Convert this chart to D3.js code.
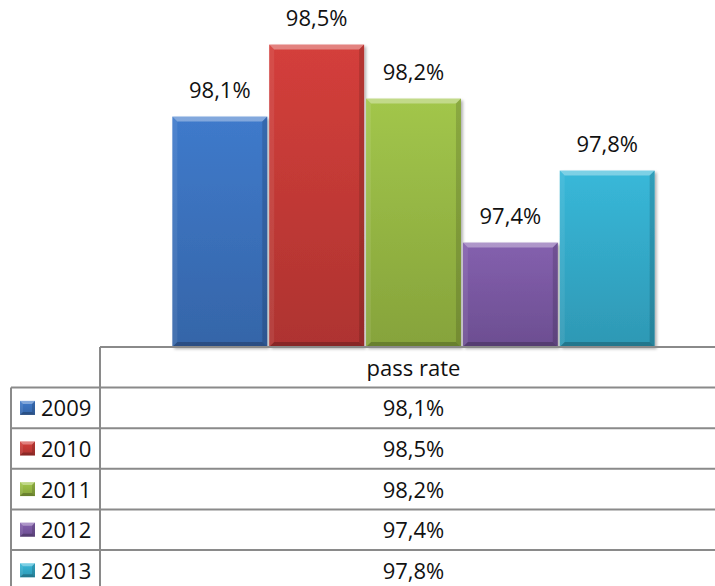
<!DOCTYPE html>
<html>
<head>
<meta charset="utf-8">
<script src="https://cdn.jsdelivr.net/npm/d3@7"></script>
<style>
  html, body { margin: 0; padding: 0; background: #fff; }
  svg { display: block; }
  text { font-family: "Open Sans", "Noto Sans", sans-serif; fill: #111; }
</style>
</head>
<body>
<script>
// ---- data ----
const categories = ["pass rate"];
const years = ["2009", "2010", "2011", "2012", "2013"];
const values = [98.1, 98.5, 98.2, 97.4, 97.8];
const labels = ["98,1%", "98,5%", "98,2%", "97,4%", "97,8%"];
const colors = ["#3f7acb", "#d43f3b", "#a2c64b", "#8460ae", "#38b8d9"];
const colorsDark = ["#3565a8", "#ae3330", "#86a33b", "#6c4e91", "#2e98b4"];

// ---- layout ----
const W = 715, H = 586;
const baseY = 347;
const tableLeft = 11, col1 = 100, tableRight = 727;
const rowH = 40.6;

const svg = d3.select("body").append("svg").attr("width", W).attr("height", H);
const defs = svg.append("defs");

colors.forEach((c, i) => {
  const g = defs.append("linearGradient").attr("id", "g" + i)
    .attr("x1", 0).attr("y1", 0).attr("x2", 0).attr("y2", 1);
  g.append("stop").attr("offset", "0%").attr("stop-color", c);
  g.append("stop").attr("offset", "100%").attr("stop-color", colorsDark[i]);
});
const f = defs.append("filter").attr("id", "shadow")
  .attr("x", "-10%").attr("y", "-10%").attr("width", "130%").attr("height", "130%");
f.append("feDropShadow").attr("dx", 2).attr("dy", 2).attr("stdDeviation", 1.5)
  .attr("flood-color", "#000").attr("flood-opacity", 0.3);

// scales
const x0 = d3.scaleBand().domain(categories).range([col1, tableRight]);
const gap = 1.5; // Excel gap width 150%
const seriesW = x0.bandwidth() / (years.length + gap);
const x1 = d3.scaleBand().domain(years)
  .range([x0("pass rate") + seriesW * gap / 2, x0("pass rate") + x0.bandwidth() - seriesW * gap / 2])
  .paddingInner(0.02);
const y = d3.scaleLinear().domain([96.82, 98.6]).range([baseY, 26.6]);

// bevelled box
function bevelBox(g, x, yTop, w, h, i, b) {
  g.append("rect").attr("x", x).attr("y", yTop).attr("width", w).attr("height", h)
    .attr("fill", `url(#g${i})`);
  const x2 = x + w, y2 = yTop + h;
  // top
  g.append("path").attr("d", `M${x},${yTop}L${x2},${yTop}L${x2 - b},${yTop + b}L${x + b},${yTop + b}Z`)
    .attr("fill", "#fff").attr("fill-opacity", 0.35);
  // left
  g.append("path").attr("d", `M${x},${yTop}L${x + b},${yTop + b}L${x + b},${y2 - b}L${x},${y2}Z`)
    .attr("fill", "#fff").attr("fill-opacity", 0.08);
  // right
  g.append("path").attr("d", `M${x2},${yTop}L${x2},${y2}L${x2 - b},${y2 - b}L${x2 - b},${yTop + b}Z`)
    .attr("fill", "#000").attr("fill-opacity", 0.14);
  // bottom
  g.append("path").attr("d", `M${x},${y2}L${x2},${y2}L${x2 - b},${y2 - b}L${x + b},${y2 - b}Z`)
    .attr("fill", "#000").attr("fill-opacity", 0.22);
}

// bars
const bars = svg.append("g");
years.forEach((yr, i) => {
  const g = bars.append("g").attr("filter", "url(#shadow)");
  const yt = y(values[i]);
  bevelBox(g, x1(yr), yt, x1.bandwidth(), baseY - yt, i, 5);
});

// bar labels
svg.append("g").selectAll("text").data(years).join("text")
  .attr("x", d => x1(d) + x1.bandwidth() / 2)
  .attr("y", (d, i) => y(values[i]) - 19)
  .attr("text-anchor", "middle")
  .attr("font-size", 22)
  .text((d, i) => labels[i]);

// ---- data table ----
const grid = svg.append("g").attr("stroke", "#8a8a8a").attr("stroke-width", 2).attr("fill", "none");
grid.append("line").attr("x1", col1).attr("x2", W).attr("y1", baseY).attr("y2", baseY);
grid.append("line").attr("x1", col1).attr("x2", col1).attr("y1", baseY).attr("y2", H);
const headBottom = baseY + rowH;
grid.append("line").attr("x1", tableLeft).attr("x2", tableLeft).attr("y1", headBottom).attr("y2", H);
years.forEach((yr, i) => {
  const yy = headBottom + i * rowH;
  grid.append("line").attr("x1", tableLeft).attr("x2", W).attr("y1", yy).attr("y2", yy);
});
grid.append("line").attr("x1", tableLeft).attr("x2", W)
  .attr("y1", headBottom + years.length * rowH).attr("y2", headBottom + years.length * rowH);

const colCenter = x0("pass rate") + x0.bandwidth() / 2;
svg.append("text").attr("x", colCenter).attr("y", baseY + rowH / 2 + 8.5)
  .attr("text-anchor", "middle").attr("font-size", 22).text(categories[0]);

const rows = svg.append("g");
years.forEach((yr, i) => {
  const cy = headBottom + i * rowH + rowH / 2;
  rows.append("text").attr("x", colCenter).attr("y", cy + 8.5)
    .attr("text-anchor", "middle").attr("font-size", 22).text(labels[i]);
  const ig = rows.append("g");
  bevelBox(ig, 20, cy - 7, 15, 14, i, 3);
  rows.append("text").attr("x", 41).attr("y", cy + 8.5)
    .attr("font-size", 22).text(yr);
});
</script>
</body>
</html>
